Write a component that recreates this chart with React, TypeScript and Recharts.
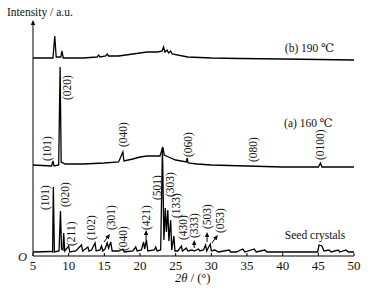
import React from 'react';
import { LineChart, Line, XAxis, YAxis, ReferenceDot, ReferenceLine } from 'recharts';

const FONT = '"Liberation Serif", "Times New Roman", "DejaVu Serif", serif';

// 2θ in degrees, intensity in a.u. (patterns stacked with offsets, as in the figure)
const seedAngle = [
  5, 7.6, 7.75, 7.85, 8.0, 8.65, 8.85, 9.0, 9.2, 9.3, 9.45, 10.0, 10.15, 11.0, 11.8, 11.95,
  12.7, 12.85, 13.2, 13.7, 13.85, 14.4, 14.6, 14.8, 15.1, 15.4, 15.6, 15.9, 16.1, 17.0, 17.6, 17.8,
  19.0, 19.4, 19.6, 20.2, 20.5, 20.65, 20.9, 21.1, 22.0, 22.2, 22.4, 22.9, 23.15, 23.35, 23.55, 23.7,
  23.9, 24.05, 24.3, 24.45, 24.75, 24.9, 25.3, 25.8, 25.95, 26.5, 26.7, 27.3, 27.6, 28.2, 28.4, 28.9,
  29.2, 29.35, 29.7, 29.85, 30.0, 30.5, 31, 32.5, 32.7, 33.5, 34.4, 34.7, 36.0, 36.3, 37.5, 37.8,
  44.9, 45.1, 45.5, 45.8, 46.5, 46.8, 47.8, 48.0, 48.9, 49.2, 50,
];
const seedIntensity = [
  4, 4.5, 4, 69, 4, 5, 45, 7, 6, 23, 5, 10, 4, 5, 11, 5,
  9, 5, 6, 13, 5, 6, 10, 5, 7, 13, 8, 14, 5, 5, 7, 4,
  5, 9, 5, 6, 14, 7, 16, 5, 6, 9, 5, 6, 109, 16, 48, 24,
  46, 15, 36, 6, 20, 5, 5, 10, 5, 8, 5, 6, 5, 7, 5, 6,
  11, 5, 10, 12, 5, 6, 4, 6, 4, 4, 7, 4, 7, 4, 6, 4,
  4, 11, 10, 5, 6, 4, 6, 4, 6, 4, 4,
];

const a160Angle = [
  5, 7.6, 7.8, 7.95, 8.6, 8.8, 8.95, 9.5, 12, 15, 17.0, 17.6, 17.75, 19, 20, 21,
  22, 22.8, 23.2, 23.4, 24, 25, 26.5, 26.6, 26.75, 28, 30, 35, 40, 45, 45.3, 45.5, 50,
];
const a160Intensity = [
  91, 90, 95, 90, 91, 189, 94, 92, 92, 93, 94, 104, 95, 97, 99, 100,
  100, 100, 109, 101, 99, 96, 94, 98, 93, 92, 91, 90, 89, 89, 93, 89, 89,
];

const b190Angle = [
  5, 7.8, 8.05, 8.25, 8.9, 9.05, 9.25, 12, 14, 14.2, 14.4, 15.2, 15.4, 15.6, 17, 19,
  21, 22.5, 23.1, 23.3, 23.5, 23.8, 24.0, 24.3, 24.5, 26.7, 30, 34, 40, 45, 50,
];
const b190Intensity = [
  198, 198, 220, 199, 199, 205, 198, 198, 199, 201, 199, 200, 202, 200, 200, 202,
  204, 204, 205, 209, 204, 206, 203, 205, 202, 199, 198, 197.5, 197, 196.5, 196,
];

const xTicks = [5, 10, 15, 20, 25, 30, 35, 40, 45, 50];

// hkl labels: [text, 2θ of label, intensity where the label starts]
const seedLabels: [string, number, number][] = [
  ['(101)', 6.7, 46], ['(020)', 9.5, 49], ['(211)', 10.3, 10], ['(102)', 13.1, 16],
  ['(301)', 15.9, 26], ['(040)', 17.6, 5], ['(421)', 20.85, 26], ['(501)', 22.4, 56],
  ['(303)', 24.2, 59], ['(133)', 25.05, 38], ['(430)', 26.0, 16], ['(333)', 27.6, 18],
  ['(503)', 29.4, 27], ['(053)', 31.2, 23],
];
const a160Labels: [string, number, number][] = [
  ['(101)', 7.0, 95], ['(020)', 9.77, 156], ['(040)', 17.6, 109],
  ['(060)', 26.7, 99], ['(080)', 35.8, 94], ['(0100)', 45.2, 96],
];

// arrows to weak peaks: [2θ from, I from, 2θ to, I to]
const seedArrows: [number, number, number, number][] = [
  [14.95, 14, 15.8, 22], [20.85, 16, 20.85, 26], [27.6, 8, 27.6, 16],
  [29.4, 14, 29.4, 24], [30.1, 13, 30.9, 21],
];

// pattern names: [text, 2θ, intensity]
const patternNames: [string, number, number][] = [
  ['(b)  190 \u2103', 40.3, 208],
  ['(a) 160 \u2103', 40.2, 133],
  ['Seed crystals', 40.3, 21],
];

const toPoints = (angles: number[], values: number[]) => angles.map((x, i) => ({ x, y: values[i] }));

const ArrowShape = (props: any) => {
  const { x1, y1, x2, y2 } = props;
  const ang = Math.atan2(y2 - y1, x2 - x1);
  const len = 5;
  const half = 2.2;
  const bx = x2 - len * Math.cos(ang);
  const by = y2 - len * Math.sin(ang);
  const px = -Math.sin(ang) * half;
  const py = Math.cos(ang) * half;
  return (
    <g>
      <line x1={x1} y1={y1} x2={bx} y2={by} stroke="#000" strokeWidth={1} />
      <polygon points={`${x2},${y2} ${bx + px},${by + py} ${bx - px},${by - py}`} fill="#000" />
    </g>
  );
};

const hklShape = (text: string) => (props: any) => (
  <text
    x={0}
    y={0}
    transform={`translate(${props.cx},${props.cy}) rotate(-90)`}
    dominantBaseline="central"
    fontSize={11.5}
    fontFamily={FONT}
    fill="#111"
  >
    {text}
  </text>
);

const nameShape = (text: string) => (props: any) => (
  <text x={props.cx} y={props.cy} dominantBaseline="central" fontSize={11.5} fontFamily={FONT} fill="#111">
    {text}
  </text>
);

export default function App() {
  return (
    <div style={{ position: 'absolute', left: 0, top: 0, background: '#fff' }}>
      <LineChart width={376} height={293} margin={{ top: 20, right: 22, bottom: 17, left: 33 }}>
        <XAxis
          dataKey="x"
          type="number"
          domain={[5, 50]}
          ticks={xTicks}
          allowDataOverflow
          height={20}
          stroke="#000"
          tickSize={-3}
          tickMargin={8}
          tick={{ fill: '#111', fontSize: 13, fontFamily: FONT }}
        />
        <YAxis type="number" domain={[0, 236]} hide width={0} />
        <ReferenceLine
          segment={[{ x: 5, y: 0 }, { x: 5, y: 236 }]}
          ifOverflow="visible"
          stroke="#000"
          shape={ArrowShape}
        />
        <Line data={toPoints(seedAngle, seedIntensity)} dataKey="y" type="linear" stroke="#000" strokeWidth={1.3} dot={false} isAnimationActive={false} />
        <Line data={toPoints(a160Angle, a160Intensity)} dataKey="y" type="linear" stroke="#000" strokeWidth={1.3} dot={false} isAnimationActive={false} />
        <Line data={toPoints(b190Angle, b190Intensity)} dataKey="y" type="linear" stroke="#000" strokeWidth={1.3} dot={false} isAnimationActive={false} />
        {seedArrows.map(([xa, ya, xb, yb], i) => (
          <ReferenceLine key={`ar${i}`} segment={[{ x: xa, y: ya }, { x: xb, y: yb }]} ifOverflow="visible" shape={ArrowShape} />
        ))}
        {[...seedLabels, ...a160Labels].map(([t, x, y], i) => (
          <ReferenceDot key={`hkl${i}`} x={x} y={y} r={0} ifOverflow="visible" shape={hklShape(t)} />
        ))}
        {patternNames.map(([t, x, y], i) => (
          <ReferenceDot key={`nm${i}`} x={x} y={y} r={0} ifOverflow="visible" shape={nameShape(t)} />
        ))}
        <ReferenceDot
          x={5}
          y={236}
          r={0}
          ifOverflow="visible"
          shape={(p: any) => (
            <text x={p.cx - 26} y={p.cy - 8} dominantBaseline="central" fontSize={11.5} fontFamily={FONT} fill="#111">
              Intensity / a.u.
            </text>
          )}
        />
        <ReferenceDot
          x={5}
          y={0}
          r={0}
          ifOverflow="visible"
          shape={(p: any) => (
            <text x={p.cx - 6} y={p.cy + 1} textAnchor="end" dominantBaseline="central" fontSize={12.5} fontStyle="italic" fontFamily={FONT} fill="#111">
              O
            </text>
          )}
        />
        <ReferenceDot
          x={27.4}
          y={0}
          r={0}
          ifOverflow="visible"
          shape={(p: any) => (
            <text x={p.cx} y={p.cy + 22} textAnchor="middle" dominantBaseline="central" fontSize={12.5} fontFamily={FONT} fill="#111">
              <tspan fontStyle="italic">2θ</tspan> / (°)
            </text>
          )}
        />
      </LineChart>
    </div>
  );
}
